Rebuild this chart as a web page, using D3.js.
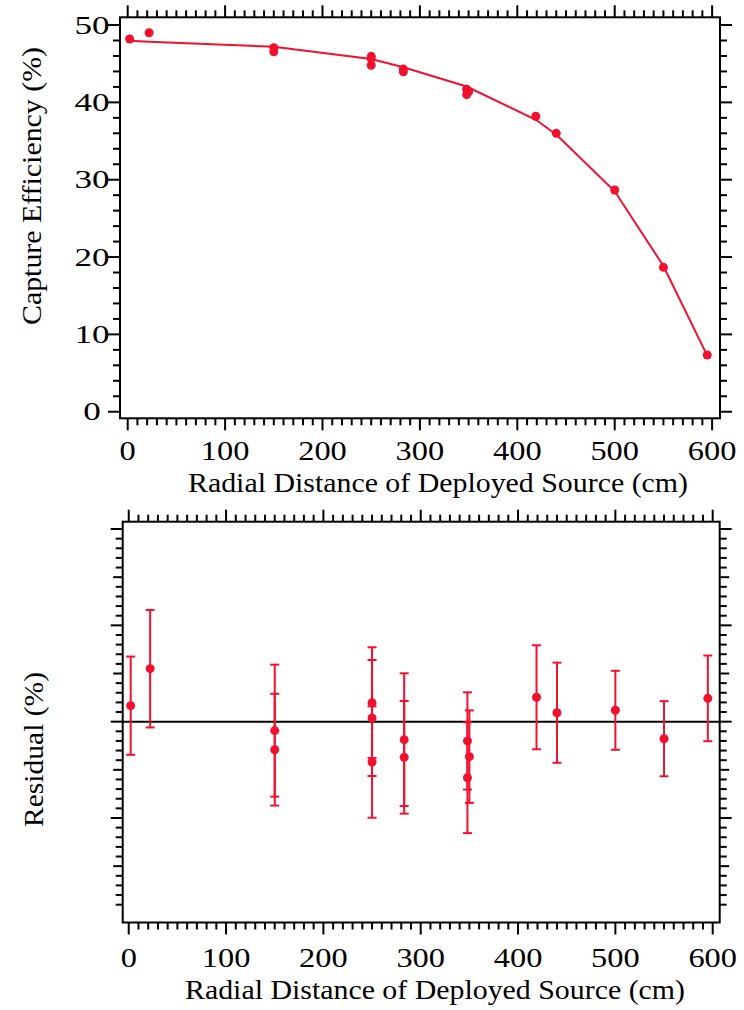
<!DOCTYPE html>
<html><head><meta charset="utf-8">
<script src="https://cdn.jsdelivr.net/npm/d3@7"></script>
<style>
body{margin:0;background:#fff}
svg{display:block}
text{font-family:"Liberation Serif","Times New Roman",Times,serif;fill:#000}
</style>
</head><body>
<svg id="chart" width="744" height="1010"></svg>
<script>
// ---- data ----
const sourceR = [2, 22, 150, 150, 250, 250, 250, 283, 283, 348, 350, 348, 419, 440, 500, 550, 595];
const efficiency = [48.2, 49.0, 47.06, 46.55, 45.95, 45.65, 44.8, 44.3, 43.96, 41.7, 41.35, 41.0, 38.2, 36.0, 28.67, 18.67, 7.33];
const residual = [0.166, 0.55, -0.093, -0.291, 0.197, 0.038, -0.419, -0.187, -0.370, -0.200, -0.363, -0.582, 0.253, 0.093, 0.118, -0.177, 0.242];
const residualErr = [0.51, 0.61, 0.685, 0.58, 0.575, 0.602, 0.578, 0.689, 0.585, 0.505, 0.48, 0.575, 0.54, 0.52, 0.41, 0.39, 0.445];
const fitR = [2, 22, 150, 250, 283, 348, 419, 440, 500, 550, 595];
const fitEff = [47.97, 47.85, 47.2, 45.6, 44.55, 42.05, 37.75, 35.85, 28.5, 18.85, 7.25];
const xTicks = [0, 100, 200, 300, 400, 500, 600];
const yTicksTop = [0, 10, 20, 30, 40, 50];
const xTitle = "Radial Distance of Deployed Source (cm)";
const yTitleTop = "Capture Efficiency (%)";
const yTitleBottom = "Residual (%)";

const RED = "#f2102f";
const svg = d3.select("#chart");

function frame(g, x, y) {
  const [x0, x1] = x.range(), [y0, y1] = y.range();
  g.append("rect").attr("x", x0).attr("y", y1).attr("width", x1 - x0).attr("height", y0 - y1)
    .attr("fill", "none").attr("stroke", "#000").attr("stroke-width", 2);
}

function ticksX(g, x, y, majors, minors) {
  const [y0, y1] = y.range();
  const draw = (vals, len) => {
    vals.forEach(v => {
      g.append("line").attr("x1", x(v)).attr("x2", x(v)).attr("y1", y0).attr("y2", y0 + len)
        .attr("stroke", "#000").attr("stroke-width", 2);
      g.append("line").attr("x1", x(v)).attr("x2", x(v)).attr("y1", y1).attr("y2", y1 - len)
        .attr("stroke", "#000").attr("stroke-width", 2);
    });
  };
  draw(minors, 7);
  draw(majors, 12);
}

function ticksY(g, x, y, groups) {
  const [x0, x1] = x.range();
  groups.forEach(([vals, len]) => {
    vals.forEach(v => {
      g.append("line").attr("x1", x0).attr("x2", x0 - len).attr("y1", y(v)).attr("y2", y(v))
        .attr("stroke", "#000").attr("stroke-width", 2);
      g.append("line").attr("x1", x1).attr("x2", x1 + len).attr("y1", y(v)).attr("y2", y(v))
        .attr("stroke", "#000").attr("stroke-width", 2);
    });
  });
}

function label(g, x, y, txt, size, sx, anchor) {
  return g.append("text").attr("transform", `translate(${x},${y}) scale(${sx},1)`)
    .attr("text-anchor", anchor).attr("font-size", size).text(txt);
}

const minorX = d3.range(0, 601, 10).filter(v => v % 100 !== 0);

// ---------------- top panel ----------------
const xT = d3.scaleLinear().domain([-7.9, 608.1]).range([120, 720]);
const yT = d3.scaleLinear().domain([-0.85, 51.0]).range([418.3, 17.3]);
const gT = svg.append("g");
ticksX(gT, xT, yT, xTicks, minorX);
ticksY(gT, xT, yT, [[d3.range(0, 51, 2).filter(v => v % 10 !== 0), 7], [yTicksTop, 12]]);
frame(gT, xT, yT);

xTicks.forEach(d => label(gT, xT(d), 460, d, 27, 1.2, "middle"));
yTicksTop.forEach(d => label(gT, 92, yT(d) + 8.6, d, 26, 1.35, "middle"));

gT.append("text").attr("x", 438).attr("y", 492).attr("text-anchor", "middle")
  .attr("font-size", 27).attr("textLength", 500).attr("lengthAdjust", "spacingAndGlyphs").text(xTitle);
gT.append("text").attr("transform", "translate(41,186) rotate(-90)").attr("text-anchor", "middle")
  .attr("font-size", 28).attr("textLength", 278).attr("lengthAdjust", "spacingAndGlyphs").text(yTitleTop);

const line = d3.line().x((d, i) => xT(fitR[i])).y(d => yT(d));
gT.append("path").datum(fitEff).attr("d", line).attr("fill", "none")
  .attr("stroke", RED).attr("stroke-width", 2);
gT.selectAll(".pt").data(efficiency).enter().append("circle")
  .attr("cx", (d, i) => xT(sourceR[i])).attr("cy", d => yT(d)).attr("r", 4.5).attr("fill", RED);

// ---------------- bottom panel ----------------
const xB = d3.scaleLinear().domain([-6.2, 607.2]).range([122.7, 719.7]);
const yB = d3.scaleLinear().domain([-2.085, 2.076]).range([922.5, 521.7]);
const gB = svg.append("g");
ticksX(gB, xB, yB, xTicks, minorX);
const allRes = d3.range(-19, 21).map(i => i / 10);
ticksY(gB, xB, yB, [
  [allRes.filter(v => Math.abs(Math.round(v * 10)) % 5 !== 0), 7],
  [allRes.filter(v => Math.abs(Math.round(v * 10)) % 10 === 5), 9.5],
  [allRes.filter(v => Math.round(v * 10) % 10 === 0), 12]
]);
frame(gB, xB, yB);

gB.append("line").attr("x1", xB.range()[0]).attr("x2", xB.range()[1])
  .attr("y1", yB(0)).attr("y2", yB(0)).attr("stroke", "#000").attr("stroke-width", 2);

xTicks.forEach(d => label(gB, xB(d), 967, d, 27, 1.2, "middle"));
gB.append("text").attr("x", 435).attr("y", 999).attr("text-anchor", "middle")
  .attr("font-size", 27).attr("textLength", 500).attr("lengthAdjust", "spacingAndGlyphs").text(xTitle);
gB.append("text").attr("transform", "translate(42.5,749.5) rotate(-90)").attr("text-anchor", "middle")
  .attr("font-size", 28).attr("textLength", 155).attr("lengthAdjust", "spacingAndGlyphs").text(yTitleBottom);

const eb = gB.selectAll(".eb").data(residual).enter().append("g");
eb.append("line").attr("x1", (d, i) => xB(sourceR[i])).attr("x2", (d, i) => xB(sourceR[i]))
  .attr("y1", (d, i) => yB(d + residualErr[i])).attr("y2", (d, i) => yB(d - residualErr[i]))
  .attr("stroke", RED).attr("stroke-width", 2);
[1, -1].forEach(s => {
  eb.append("line").attr("x1", (d, i) => xB(sourceR[i]) - 4.5).attr("x2", (d, i) => xB(sourceR[i]) + 4.5)
    .attr("y1", (d, i) => yB(d + s * residualErr[i])).attr("y2", (d, i) => yB(d + s * residualErr[i]))
    .attr("stroke", RED).attr("stroke-width", 2);
});
gB.selectAll(".pt").data(residual).enter().append("circle")
  .attr("cx", (d, i) => xB(sourceR[i])).attr("cy", d => yB(d)).attr("r", 4.5).attr("fill", RED);
</script>
</body></html>
